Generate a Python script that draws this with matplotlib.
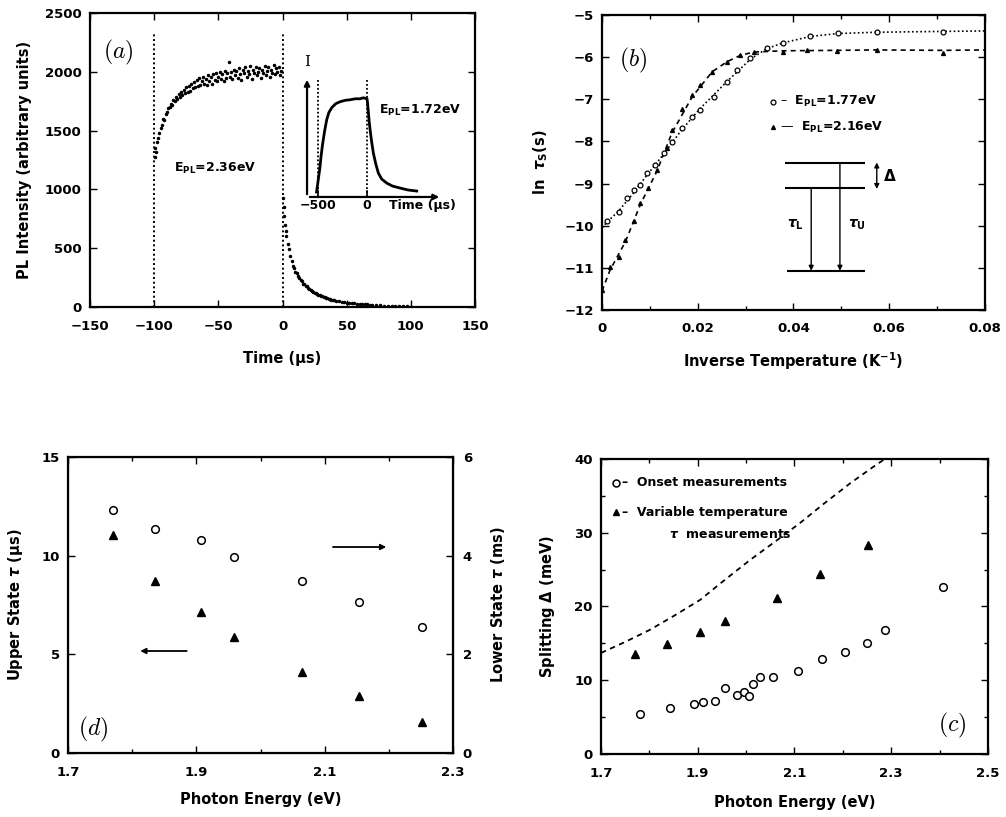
import numpy as np
import matplotlib
matplotlib.use("Agg")
import matplotlib.pyplot as plt
from matplotlib.ticker import MultipleLocator

plt.rcParams['font.family'] = ['DejaVu Sans']
plt.rcParams['font.weight'] = 'bold'
plt.rcParams['mathtext.fontset'] = 'dejavusans'

# ---- panel (a): PL transient at 2.36 eV ----
base_t = [-106, -105, -104, -103, -102, -101]
base_v = [0, 0, 0, 0, 0, 0]
rise_t = [-99.5, -99, -98.5, -98, -97, -96, -95, -94, -93, -92, -91, -90, -89, -88, -87,
          -86, -85, -84, -83, -82, -81, -80, -79, -78, -77, -76, -75, -74, -73, -72,
          -71, -70, -69, -68, -67, -66, -65, -64, -63, -62, -61, -60, -59, -58, -57,
          -56, -55, -54, -53, -52, -51, -50, -49, -48, -47, -46, -45, -44, -43, -42,
          -41, -40, -39, -38, -37, -36, -35, -34, -33, -32, -31, -30, -29, -28, -27,
          -26, -25, -24, -23, -22, -21, -20, -19, -18, -17, -16, -15, -14, -13, -12,
          -11, -10, -9, -8, -7, -6, -5, -4, -3, -2, -1]
rise_v = [1280, 1350, 1320, 1400, 1440, 1480, 1520, 1550, 1600, 1590, 1640, 1660, 1690, 1700, 1730,
          1720, 1760, 1750, 1790, 1770, 1810, 1790, 1830, 1800, 1850, 1820, 1870, 1830, 1880, 1840,
          1900, 1860, 1910, 1870, 1930, 1880, 1950, 1890, 1920, 1960, 1900, 1940, 1890, 1970, 1920,
          1960, 1900, 1980, 1930, 1990, 1920, 1960, 2000, 1940, 1980, 1920, 2010, 1950, 1990, 2080,
          1960, 2000, 1940, 2020, 1970, 2010, 1950, 2030, 1980, 1930, 2020, 1990, 2040, 1960, 2010,
          1980, 2050, 1940, 2020, 1990, 2040, 1970, 2000, 2030, 1950, 2020, 1990, 2050, 1970, 2010,
          2040, 1960, 2020, 1990, 2060, 1980, 2030, 2000, 2040, 1970, 2010]
decay_t = [0.5, 1, 1.5, 2, 2.5, 3, 4, 5, 6, 7, 8, 9, 10, 11, 12, 13, 14, 15, 16, 17, 18, 19, 20,
           21, 22, 23, 24, 25, 26, 27, 28, 29, 30, 31, 32, 33, 34, 35, 36, 37, 38, 39, 40, 42,
           44, 46, 48, 50, 52, 54, 56, 58, 60, 62, 64, 66, 68, 70, 73, 76, 79, 82, 85, 88, 91,
           94, 97, 100]
decay_v = [930, 850, 770, 700, 650, 600, 540, 490, 430, 395, 350, 335, 300, 290, 262, 250, 230,
           224, 200, 196, 176, 175, 158, 152, 142, 136, 128, 122, 116, 110, 104, 99, 95, 90, 86,
           82, 78, 74, 70, 66, 63, 60, 57, 53, 48, 45, 41, 38, 36, 33, 31, 29, 27, 25, 24, 22,
           20, 19, 16, 15, 13, 11, 10, 9, 7, 6, 5, 4]

# inset, E_PL = 1.72 eV (normalised intensity)
inset_t = [-515, -505, -480, -469, -455, -446, -430, -411, -390, -360, -320, -276, -220, -173,
           -120, -70, -37, 0, 5, 14, 22, 31, 45, 65, 90, 116, 150, 201, 260, 337, 420, 507]
inset_i = [0.05, 0.12, 0.30, 0.41, 0.52, 0.58, 0.68, 0.78, 0.85, 0.90, 0.94, 0.96, 0.975, 0.98,
           0.99, 0.99, 1.0, 0.99, 0.95, 0.85, 0.76, 0.68, 0.57, 0.44, 0.33, 0.24, 0.18, 0.14,
           0.11, 0.09, 0.07, 0.06]

# ---- panel (b): ln tau_s vs inverse temperature ----
b1_x = [0.001, 0.0035, 0.0052, 0.0066, 0.0080, 0.0094, 0.0111, 0.0129, 0.0146, 0.0167, 0.0188,
        0.0205, 0.0233, 0.0261, 0.0282, 0.0310, 0.0344, 0.0379, 0.0435, 0.0494, 0.0574, 0.0713]
b1_y = [-9.90, -9.67, -9.35, -9.15, -9.03, -8.76, -8.56, -8.28, -8.01, -7.69, -7.41,
        -7.25, -6.94, -6.58, -6.31, -6.03, -5.79, -5.67, -5.51, -5.44, -5.41, -5.40]
b2_x = [0.0, 0.0017, 0.0035, 0.0049, 0.0066, 0.0080, 0.0097, 0.0115, 0.0136, 0.0146, 0.0167,
        0.0188, 0.0205, 0.0230, 0.0261, 0.0289, 0.0317, 0.0379, 0.0428, 0.0490, 0.0574, 0.0713]
b2_y = [-11.53, -10.97, -10.74, -10.34, -9.90, -9.47, -9.11, -8.68, -8.16, -7.73, -7.22,
        -6.90, -6.66, -6.35, -6.11, -5.95, -5.87, -5.87, -5.83, -5.85, -5.83, -5.91]
b1_fit_x = [0.0, 0.001, 0.0035, 0.0066, 0.0094, 0.0129, 0.0167, 0.0205, 0.0261, 0.0310,
            0.0344, 0.0379, 0.0435, 0.0494, 0.0574, 0.0713, 0.08]
b1_fit_y = [-10.05, -9.92, -9.65, -9.22, -8.80, -8.30, -7.72, -7.22, -6.58, -6.05,
            -5.80, -5.66, -5.51, -5.44, -5.41, -5.39, -5.38]
b2_fit_x = [0.0, 0.0017, 0.0049, 0.0080, 0.0115, 0.0146, 0.0188, 0.0230, 0.0261, 0.0289,
            0.0317, 0.0379, 0.0490, 0.0574, 0.0713, 0.08]
b2_fit_y = [-11.55, -11.05, -10.38, -9.50, -8.70, -7.80, -6.95, -6.35, -6.11, -5.96,
            -5.88, -5.85, -5.84, -5.83, -5.84, -5.83]

# ---- panel (d): lifetimes vs photon energy ----
d_e = [1.77, 1.835, 1.907, 1.958, 2.064, 2.153, 2.252]
d_upper = [11.06, 8.73, 7.13, 5.86, 4.09, 2.87, 1.55]     # us, triangles
d_lower = [4.92, 4.54, 4.31, 3.97, 3.49, 3.07, 2.56]      # ms, circles

# ---- panel (c): splitting vs photon energy ----
c_tri_e = [1.770, 1.837, 1.905, 1.957, 2.063, 2.153, 2.252]
c_tri_d = [13.5, 14.9, 16.5, 18.1, 21.1, 24.4, 28.3]
c_onset_e = [1.781, 1.843, 1.893, 1.910, 1.936, 1.957, 1.981, 1.996, 2.007, 2.015, 2.029,
             2.056, 2.108, 2.156, 2.204, 2.249, 2.288, 2.406]
c_onset_d = [5.4, 6.3, 6.8, 7.1, 7.2, 8.9, 7.95, 8.35, 7.9, 9.5, 10.4, 10.4, 11.3, 12.9,
             13.8, 15.0, 16.8, 22.6]
c_fit_e = [1.70, 1.75, 1.80, 1.85, 1.905, 1.95, 2.008, 2.06, 2.111, 2.16, 2.215, 2.26, 2.30]
c_fit_d = [13.7, 15.2, 16.8, 18.7, 20.9, 23.3, 26.3, 28.8, 31.3, 33.9, 36.7, 38.8, 40.6]

fig = plt.figure(figsize=(10.06, 8.17), dpi=100)


def style(ax):
    for s in ax.spines.values():
        s.set_linewidth(1.6)
    ax.tick_params(which='both', direction='in', top=True, right=True, labelsize=9.5, width=1)
    ax.tick_params(which='major', length=5)
    ax.tick_params(which='minor', length=3)
    ax.tick_params(axis='x', pad=9)
    ax.tick_params(axis='y', pad=6)
    for lab in ax.get_xticklabels() + ax.get_yticklabels():
        lab.set_fontweight('bold')


lab_kw = dict(fontsize=10.5, fontweight='bold')

# panel (a)
ax = fig.add_axes([0.0895, 0.6242, 0.3827, 0.3598])
ax.plot(base_t, base_v, 'k.', ms=2.5)
ax.plot(rise_t, rise_v, 'k.', ms=3)
ax.plot(decay_t, decay_v, 'k.', ms=3)
ax.vlines([-100, 0], 0, 2320, colors='k', linestyles=(0, (1, 1.4)), lw=1.4)
ax.set_xlim(-150, 150)
ax.set_ylim(0, 2500)
ax.xaxis.set_major_locator(MultipleLocator(50))
ax.yaxis.set_major_locator(MultipleLocator(500))
style(ax)
ax.set_xlabel('Time (µs)', labelpad=13, **lab_kw)
ax.set_ylabel('PL Intensity (arbitrary units)', labelpad=9, **lab_kw)
ax.text(0.073, 0.867, r'$(a)$', transform=ax.transAxes, fontsize=17, math_fontfamily='cm',
        ha='center', va='center')
ax.text(0.325, 0.473, r'E$_{\mathbf{PL}}$=2.36eV', transform=ax.transAxes, fontsize=9,
        ha='center', va='center')
ax.text(0.857, 0.670, r'E$_{\mathbf{PL}}$=1.72eV', transform=ax.transAxes, fontsize=9,
        ha='center', va='center')

ins = fig.add_axes([0.3052, 0.7589, 0.1342, 0.1469])
ins.set_xlim(-612, 765)
ins.set_ylim(0, 1.21)
ins.plot(inset_t, inset_i, 'k-', lw=2.0)
ins.vlines([-500, 0], 0, 1.18, colors='k', linestyles=(0, (1, 1.2)), lw=1.3)
ins.axis('off')
ins.annotate('', xy=(0, 1.0), xytext=(0, 0), xycoords='axes fraction',
             arrowprops=dict(arrowstyle='-|>', lw=1.6, color='k', mutation_scale=8))
ins.annotate('', xy=(1.0, 0), xytext=(0, 0), xycoords='axes fraction',
             arrowprops=dict(arrowstyle='-|>', lw=1.6, color='k', mutation_scale=8))
for tx in (-500, 0):
    ins.plot([tx, tx], [0, 0.06], 'k-', lw=1.2)
    ins.text(tx, -0.09, str(tx).replace('-', '−'), ha='center', va='center', fontsize=9)
ins.text(561, -0.09, 'Time (µs)', ha='center', va='center', fontsize=9)
ins.text(0, 1.125, 'I', transform=ins.transAxes, ha='center', va='center', fontsize=11,
         family='DejaVu Serif', fontweight='normal')

# panel (b)
ax = fig.add_axes([0.5984, 0.6206, 0.3807, 0.3611])
ax.plot(b1_fit_x, b1_fit_y, 'k', ls=(0, (1, 1.5)), lw=1.2)
ax.plot(b2_fit_x, b2_fit_y, 'k', ls=(0, (3, 2.5)), lw=1.2)
ax.plot(b1_x, b1_y, 'ko', ms=3.5, mfc='white', mew=0.9)
ax.plot(b2_x, b2_y, 'k^', ms=2.8)
ax.set_xlim(0, 0.08)
ax.set_ylim(-12, -5)
ax.xaxis.set_major_locator(MultipleLocator(0.02))
ax.xaxis.set_minor_locator(MultipleLocator(0.01))
ax.yaxis.set_major_locator(MultipleLocator(1))
ax.set_xticks([0, 0.02, 0.04, 0.06, 0.08], ['0', '0.02', '0.04', '0.06', '0.08'])
style(ax)
ax.set_xlabel(r'Inverse Temperature (K$^{\mathbf{-1}}$)', labelpad=11, **lab_kw)
ax.set_ylabel(r'ln  $\tau_\mathbf{S}$(s)', labelpad=10, **lab_kw)
ax.text(0.081, 0.847, r'$(b)$', transform=ax.transAxes, fontsize=17, math_fontfamily='cm',
        ha='center', va='center')
ax.plot([0.0357], [-7.06], 'ko', ms=3.5, mfc='white', mew=0.9)
ax.plot([0.0357], [-7.66], 'k^', ms=2.8)
ax.text(0.0372, -7.06, r'–  E$_{\mathbf{PL}}$=1.77eV', fontsize=9, va='center')
ax.text(0.0372, -7.66, r'—  E$_{\mathbf{PL}}$=2.16eV', fontsize=9, va='center')
# level scheme
ax.hlines([-8.52, -9.11], 0.0383, 0.0550, colors='k', lw=1.5)
ax.hlines(-11.07, 0.0386, 0.0550, colors='k', lw=1.5)
ax.annotate('', xy=(0.0437, -11.07), xytext=(0.0437, -9.11),
            arrowprops=dict(arrowstyle='-|>', lw=1.0, color='k', mutation_scale=7, shrinkA=0, shrinkB=0))
ax.annotate('', xy=(0.0497, -11.07), xytext=(0.0497, -8.52),
            arrowprops=dict(arrowstyle='-|>', lw=1.0, color='k', mutation_scale=7, shrinkA=0, shrinkB=0))
ax.annotate('', xy=(0.0574, -9.13), xytext=(0.0574, -8.50),
            arrowprops=dict(arrowstyle='<|-|>', lw=1.0, color='k', mutation_scale=7, shrinkA=0, shrinkB=0))
ax.text(0.0588, -8.82, r'$\Delta$', fontsize=11, va='center')
ax.text(0.0403, -9.98, r'$\tau_\mathbf{L}$', fontsize=10, ha='center', va='center')
ax.text(0.0532, -9.98, r'$\tau_\mathbf{U}$', fontsize=10, ha='center', va='center')

# panel (d)
ax = fig.add_axes([0.0676, 0.0783, 0.3827, 0.3623])
ax.plot(d_e, d_upper, 'k^', ms=5.5)
ax.set_xlim(1.7, 2.3)
ax.set_ylim(0, 15)
ax.xaxis.set_minor_locator(MultipleLocator(0.1))
ax.set_xticks([1.7, 1.9, 2.1, 2.3])
ax.yaxis.set_major_locator(MultipleLocator(5))
style(ax)
ax.tick_params(right=False)
ax.set_xlabel('Photon Energy (eV)', labelpad=10, **lab_kw)
ax.set_ylabel(r'Upper State $\tau$ (µs)', labelpad=12, **lab_kw)
ax.text(0.065, 0.078, r'$(d)$', transform=ax.transAxes, fontsize=17, math_fontfamily='cm',
        ha='center', va='center')
ax.annotate('', xy=(1.8125, 5.17), xytext=(1.885, 5.17),
            arrowprops=dict(arrowstyle='-|>', lw=1.3, color='k', mutation_scale=8, shrinkA=0, shrinkB=0))
ax.annotate('', xy=(2.196, 10.44), xytext=(2.113, 10.44),
            arrowprops=dict(arrowstyle='-|>', lw=1.3, color='k', mutation_scale=8, shrinkA=0, shrinkB=0))
ax2 = ax.twinx()
ax2.plot(d_e, d_lower, 'ko', ms=5.5, mfc='white', mew=1.1)
ax2.set_ylim(0, 6)
ax2.yaxis.set_major_locator(MultipleLocator(2))
ax2.tick_params(direction='in', length=5, width=1, labelsize=9.5, pad=7)
for lab in ax2.get_yticklabels():
    lab.set_fontweight('bold')
ax2.set_ylabel(r'Lower State $\tau$ (ms)', labelpad=12, **lab_kw)

# panel (c)
ax = fig.add_axes([0.5974, 0.0771, 0.3847, 0.3611])
ax.plot(c_fit_e, c_fit_d, 'k', ls=(0, (3, 2.5)), lw=1.3)
ax.plot(c_tri_e, c_tri_d, 'k^', ms=5.5)
ax.plot(c_onset_e, c_onset_d, 'ko', ms=5.5, mfc='white', mew=1.1)
ax.set_xlim(1.7, 2.5)
ax.set_ylim(0, 40)
ax.set_xticks([1.7, 1.9, 2.1, 2.3, 2.5])
ax.xaxis.set_minor_locator(MultipleLocator(0.1))
ax.yaxis.set_major_locator(MultipleLocator(10))
ax.yaxis.set_minor_locator(MultipleLocator(5))
style(ax)
ax.set_xlabel('Photon Energy (eV)', labelpad=11, **lab_kw)
ax.set_ylabel(r'Splitting $\Delta$ (meV)', labelpad=12, **lab_kw)
ax.text(0.907, 0.098, r'$(c)$', transform=ax.transAxes, fontsize=17, math_fontfamily='cm',
        ha='center', va='center')
ax.plot([1.731], [36.75], 'ko', ms=5, mfc='white', mew=1.1)
ax.plot([1.731], [32.8], 'k^', ms=4.5)
ax.text(1.743, 36.75, '–  Onset measurements', fontsize=9, va='center')
ax.text(1.743, 32.8, '–  Variable temperature', fontsize=9, va='center')
ax.text(1.840, 29.7, r'$\tau$  measurements', fontsize=9, va='center')

fig.savefig('out.png', dpi=100)
